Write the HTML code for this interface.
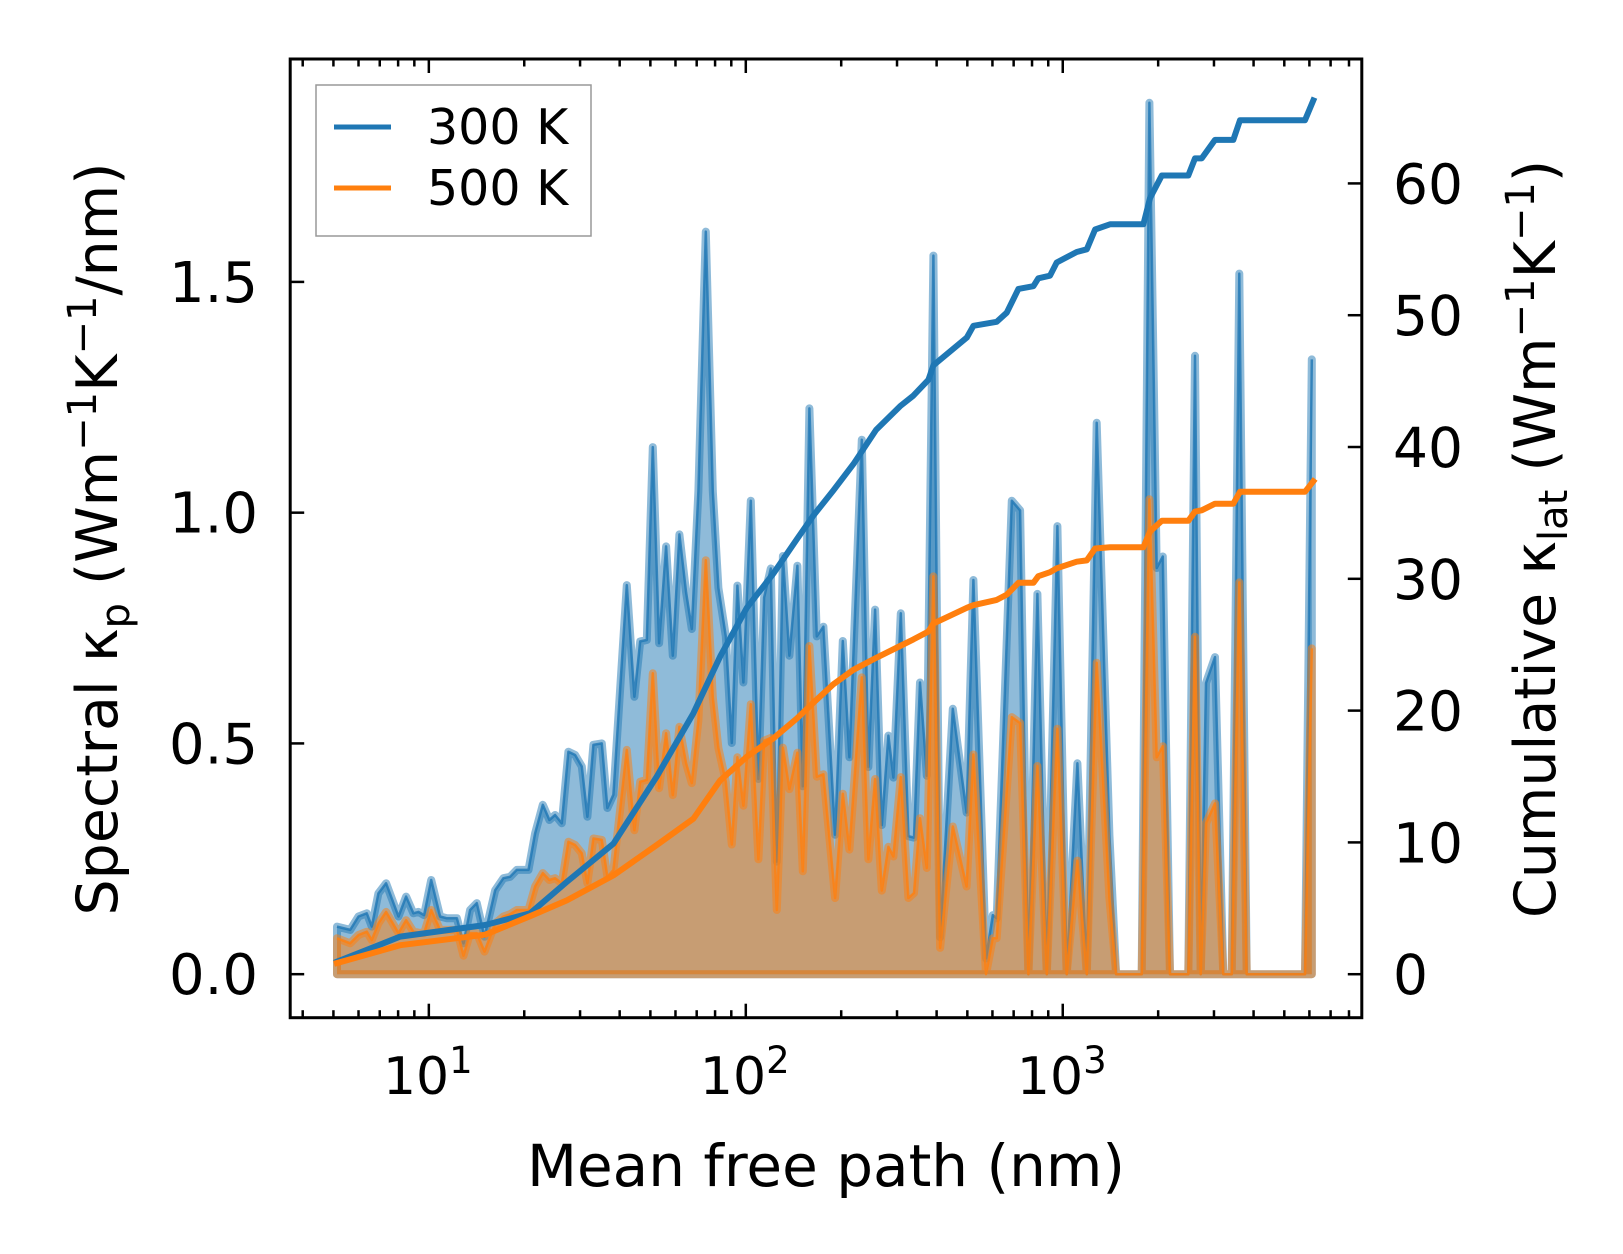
<!DOCTYPE html>
<html><head><meta charset="utf-8"><style>
html,body{margin:0;padding:0;background:#fff;}
svg{display:block;font-family:"DejaVu Sans","Liberation Sans",sans-serif;}
</style></head><body>
<svg id="chart" width="1623" height="1254" viewBox="0 0 1623 1254" xmlns="http://www.w3.org/2000/svg">
<rect x="0" y="0" width="1623" height="1254" fill="#fff"/>
<g id="plot"></g>
</svg>
<script>
// ---- data ----
const mfp = [5.13,5.65,6.00,6.37,6.61,6.93,7.33,8.02,8.48,8.94,9.27,9.66,10.17,10.85,11.40,12.26,12.86,13.50,14.17,14.98,16.19,17.19,18.05,18.95,20.62,21.64,22.89,24.01,25.03,26.28,27.56,28.93,30.39,31.64,33.05,35.13,36.59,38.22,42.14,44.53,46.42,48.73,50.89,53.27,56.05,58.84,61.73,64.81,67.55,70.87,74.77,78.67,81.94,86.46,90.31,94.08,98.26,103.7,109.6,114.2,119.9,125.3,130.9,137.3,145.5,151.3,158.7,167.5,175.7,191.3,202.3,212.2,232.2,243.7,255.8,268.5,281.7,292.2,308.3,325.8,339.5,354.6,372.4,390.7,410.2,449.8,497.3,522.4,572.8,601.4,619.1,690.5,733.4,778.9,831.6,890.3,961.6,1029,1112,1191,1280,1403,1473,1775,1876,1979,2068,2180,2490,2614,2725,2831,3023,3210,3412,3606,3806,5812,6104];
const spec300 = [0.103,0.096,0.125,0.132,0.103,0.175,0.197,0.125,0.168,0.132,0.135,0.128,0.204,0.125,0.121,0.121,0.067,0.139,0.154,0.081,0.182,0.208,0.211,0.226,0.226,0.305,0.367,0.334,0.345,0.327,0.482,0.475,0.450,0.341,0.497,0.500,0.360,0.389,0.843,0.601,0.721,0.724,1.142,0.717,0.927,0.690,0.953,0.827,0.748,1.047,1.609,1.047,0.837,0.732,0.501,0.842,0.632,1.026,0.423,0.816,0.879,0.244,0.906,0.690,0.885,0.407,1.226,0.732,0.753,0.302,0.722,0.470,1.158,0.449,0.790,0.323,0.517,0.426,0.782,0.299,0.296,0.632,0.430,1.557,0.080,0.575,0.350,0.854,0.034,0.128,0.121,1.026,1.005,0,0.824,0,0.971,0,0.457,0,1.195,0.302,0,0,1.888,0.880,0.905,0,0,1.340,0,0.631,0.687,0,0,1.518,0,0,1.332];
const spec500 = [0.078,0.067,0.085,0.092,0.074,0.110,0.135,0.089,0.117,0.092,0.090,0.089,0.139,0.096,0.096,0.096,0.040,0.089,0.089,0.049,0.110,0.125,0.130,0.139,0.139,0.190,0.219,0.204,0.208,0.197,0.287,0.280,0.262,0.197,0.294,0.291,0.211,0.226,0.486,0.312,0.417,0.421,0.652,0.403,0.522,0.388,0.536,0.457,0.414,0.550,0.897,0.600,0.490,0.417,0.281,0.470,0.365,0.585,0.249,0.506,0.512,0.139,0.491,0.401,0.480,0.223,0.711,0.428,0.433,0.165,0.391,0.270,0.643,0.249,0.423,0.181,0.276,0.255,0.427,0.165,0.176,0.338,0.230,0.862,0.057,0.320,0.190,0.476,0,0.078,0.078,0.557,0.544,0,0.451,0,0.532,0,0.246,0,0.675,0.165,0,0,1.029,0.470,0.494,0,0,0.731,0,0.327,0.370,0,0,0.849,0,0,0.706];
const cumMfp = [5.13,8.12,15.06,20.87,27.25,38.22,52.39,68.33,82.97,100.7,122.2,144.9,163.4,188.9,218.5,257.7,306.8,337.9,376.7,390.7,498.1,522.4,619.1,665.8,724.4,807.9,837.5,911.8,957.2,1107,1191,1265,1410,1796,1886,2053,2490,2614,2744,3023,3453,3625,5812,6174];
const cum300 = [0.95,2.85,3.73,4.62,7.0,9.9,15.0,19.8,24.1,27.8,30.4,33.0,34.8,36.7,38.7,41.3,43.1,43.9,45.1,46.2,48.3,49.2,49.5,50.2,52.0,52.2,52.8,53.0,54.0,54.8,55.0,56.5,56.9,56.9,58.9,60.6,60.6,61.9,61.9,63.3,63.3,64.8,64.8,66.3];
const cum500 = [0.85,2.2,3.0,4.4,5.6,7.5,9.8,11.8,14.7,16.5,17.9,19.4,20.6,22.0,23.1,24.0,24.9,25.4,26.0,26.6,27.8,28.0,28.4,28.8,29.7,29.7,30.2,30.5,30.8,31.3,31.4,32.3,32.4,32.4,33.6,34.4,34.4,35.1,35.2,35.7,35.7,36.6,36.6,37.4];
const yTicksLeft = [0, 0.5, 1.0, 1.5];
const yTickLabelsLeft = ["0.0","0.5","1.0","1.5"];
const yTicksRight = [0,10,20,30,40,50,60];
const xDecades = [1,2,3];

// ---- axes ----
const L=290.2, R=1361.8, T=59, B=1017.7;
const xLogMin=0.5626, xLogMax=3.9435;
const yMin=-0.0943, yMax=1.983;
const y2Min=-3.30, y2Max=69.44;
const X = v => L + (Math.log10(v)-xLogMin)/(xLogMax-xLogMin)*(R-L);
const Y = v => B - (v-yMin)/(yMax-yMin)*(B-T);
const Y2 = v => B - (v-y2Min)/(y2Max-y2Min)*(B-T);
const C1="#1f77b4", C2="#ff7f0e";
const NS="http://www.w3.org/2000/svg";
const g=document.getElementById('plot');
function mk(tag, attrs, parent){const e=document.createElementNS(NS,tag);for(const k in attrs)e.setAttribute(k,attrs[k]);(parent||g).appendChild(e);return e;}

const defs=mk('defs',{});
const cp=mk('clipPath',{id:'clip'},defs);
mk('rect',{x:L,y:T,width:R-L,height:B-T},cp);
const area=mk('g',{'clip-path':'url(#clip)'});

function specPaths(vals,color,name){
  let line='';
  vals.forEach((v,i)=>{line+=(i?'L':'M')+X(mfp[i]).toFixed(1)+','+Y(v).toFixed(1);});
  const fillD=line+'L'+X(mfp[mfp.length-1]).toFixed(1)+','+Y(0).toFixed(1)+'L'+X(mfp[0]).toFixed(1)+','+Y(0).toFixed(1)+'Z';
  const f=mk('path',{d:fillD,fill:color,'fill-opacity':0.5,stroke:color,'stroke-opacity':0.5,'stroke-width':8,'stroke-linejoin':'round'},area);
  
  
  const l=mk('path',{d:line,fill:'none',stroke:color,'stroke-opacity':0.8,'stroke-width':2.5,'stroke-linejoin':'round'},area);
  
  
}
specPaths(spec300,C1,'spectral-300k');
specPaths(spec500,C2,'spectral-500k');

function cumPath(vals,color,name){
  let d='';
  vals.forEach((v,i)=>{d+=(i?'L':'M')+X(cumMfp[i]).toFixed(1)+','+Y2(v).toFixed(1);});
  const p=mk('path',{d:d,fill:'none',stroke:color,'stroke-width':6,'stroke-linejoin':'round','stroke-linecap':'square'},area);
  
  
}
cumPath(cum300,C1,'cumulative-300k');
cumPath(cum500,C2,'cumulative-500k');

const sp=mk('rect',{x:L,y:T,width:R-L,height:B-T,fill:'none',stroke:'#000','stroke-width':3});



const ticks=mk('g',{stroke:'#000','stroke-width':2.5});


for(let d=0; d<=3; d++){
  for(let m=1;m<=9;m++){
    const v=m*Math.pow(10,d);
    const lv=Math.log10(v);
    if(lv<xLogMin||lv>xLogMax)continue;
    const x=X(v), len=(m===1)?14:7.5;
    mk('line',{x1:x,y1:B,x2:x,y2:B-len},ticks);
    mk('line',{x1:x,y1:T,x2:x,y2:T+len},ticks);
  }
}
yTicksLeft.forEach(v=>{mk('line',{x1:L,y1:Y(v),x2:L+14,y2:Y(v)},ticks);});
yTicksRight.forEach(v=>{mk('line',{x1:R,y1:Y2(v),x2:R-14,y2:Y2(v)},ticks);});

yTicksLeft.forEach((v,i)=>{
  const t=mk('text',{x:258,y:Y(v)+20,'text-anchor':'end','font-size':56,fill:'#000'});
  t.textContent=yTickLabelsLeft[i];
  
  
});
yTicksRight.forEach(v=>{
  const t=mk('text',{x:1393,y:Y2(v)+20,'text-anchor':'start','font-size':55,fill:'#000'});
  t.textContent=String(v);
  
  
});
xDecades.forEach(d=>{
  const t=mk('text',{x:X(Math.pow(10,d))-1,y:1094,'text-anchor':'middle','font-size':52,fill:'#000'});
  t.textContent='10';
  const s=mk('tspan',{dy:-21,'font-size':37},t);
  s.textContent=String(d);
  
  
});
</script>
<svg style="position:absolute;left:0;top:0" width="1623" height="1254" xmlns="http://www.w3.org/2000/svg" font-family="DejaVu Sans, Liberation Sans, sans-serif">
<text x="826" y="1186" text-anchor="middle" font-size="58" fill="#000">Mean free path (nm)</text>
<text transform="translate(117,539) rotate(-90)" text-anchor="middle" font-size="57" fill="#000">Spectral κ<tspan font-size="40" dy="12">p</tspan><tspan dy="-12"> (Wm</tspan><tspan font-size="40" dy="-21">−1</tspan><tspan dy="21">K</tspan><tspan font-size="40" dy="-21">−1</tspan><tspan dy="21">/nm)</tspan></text>
<text transform="translate(1555,539) rotate(-90)" text-anchor="middle" font-size="57" fill="#000">Cumulative κ<tspan font-size="40" dy="12">lat</tspan><tspan dy="-12"> (Wm</tspan><tspan font-size="40" dy="-21">−1</tspan><tspan dy="21">K</tspan><tspan font-size="40" dy="-21">−1</tspan><tspan dy="21">)</tspan></text>
<g>
<rect x="316" y="85" width="275" height="151" fill="#fff" fill-opacity="0.8" stroke="#999" stroke-width="1.5"/>
<line x1="334" y1="127" x2="391" y2="127" stroke="#1f77b4" stroke-width="5"/>
<text x="427" y="144" font-size="49" fill="#000">300 K</text>
<line x1="334" y1="188" x2="391" y2="188" stroke="#ff7f0e" stroke-width="5"/>
<text x="427" y="205" font-size="49" fill="#000">500 K</text>
</g>
</svg>
</body></html>
